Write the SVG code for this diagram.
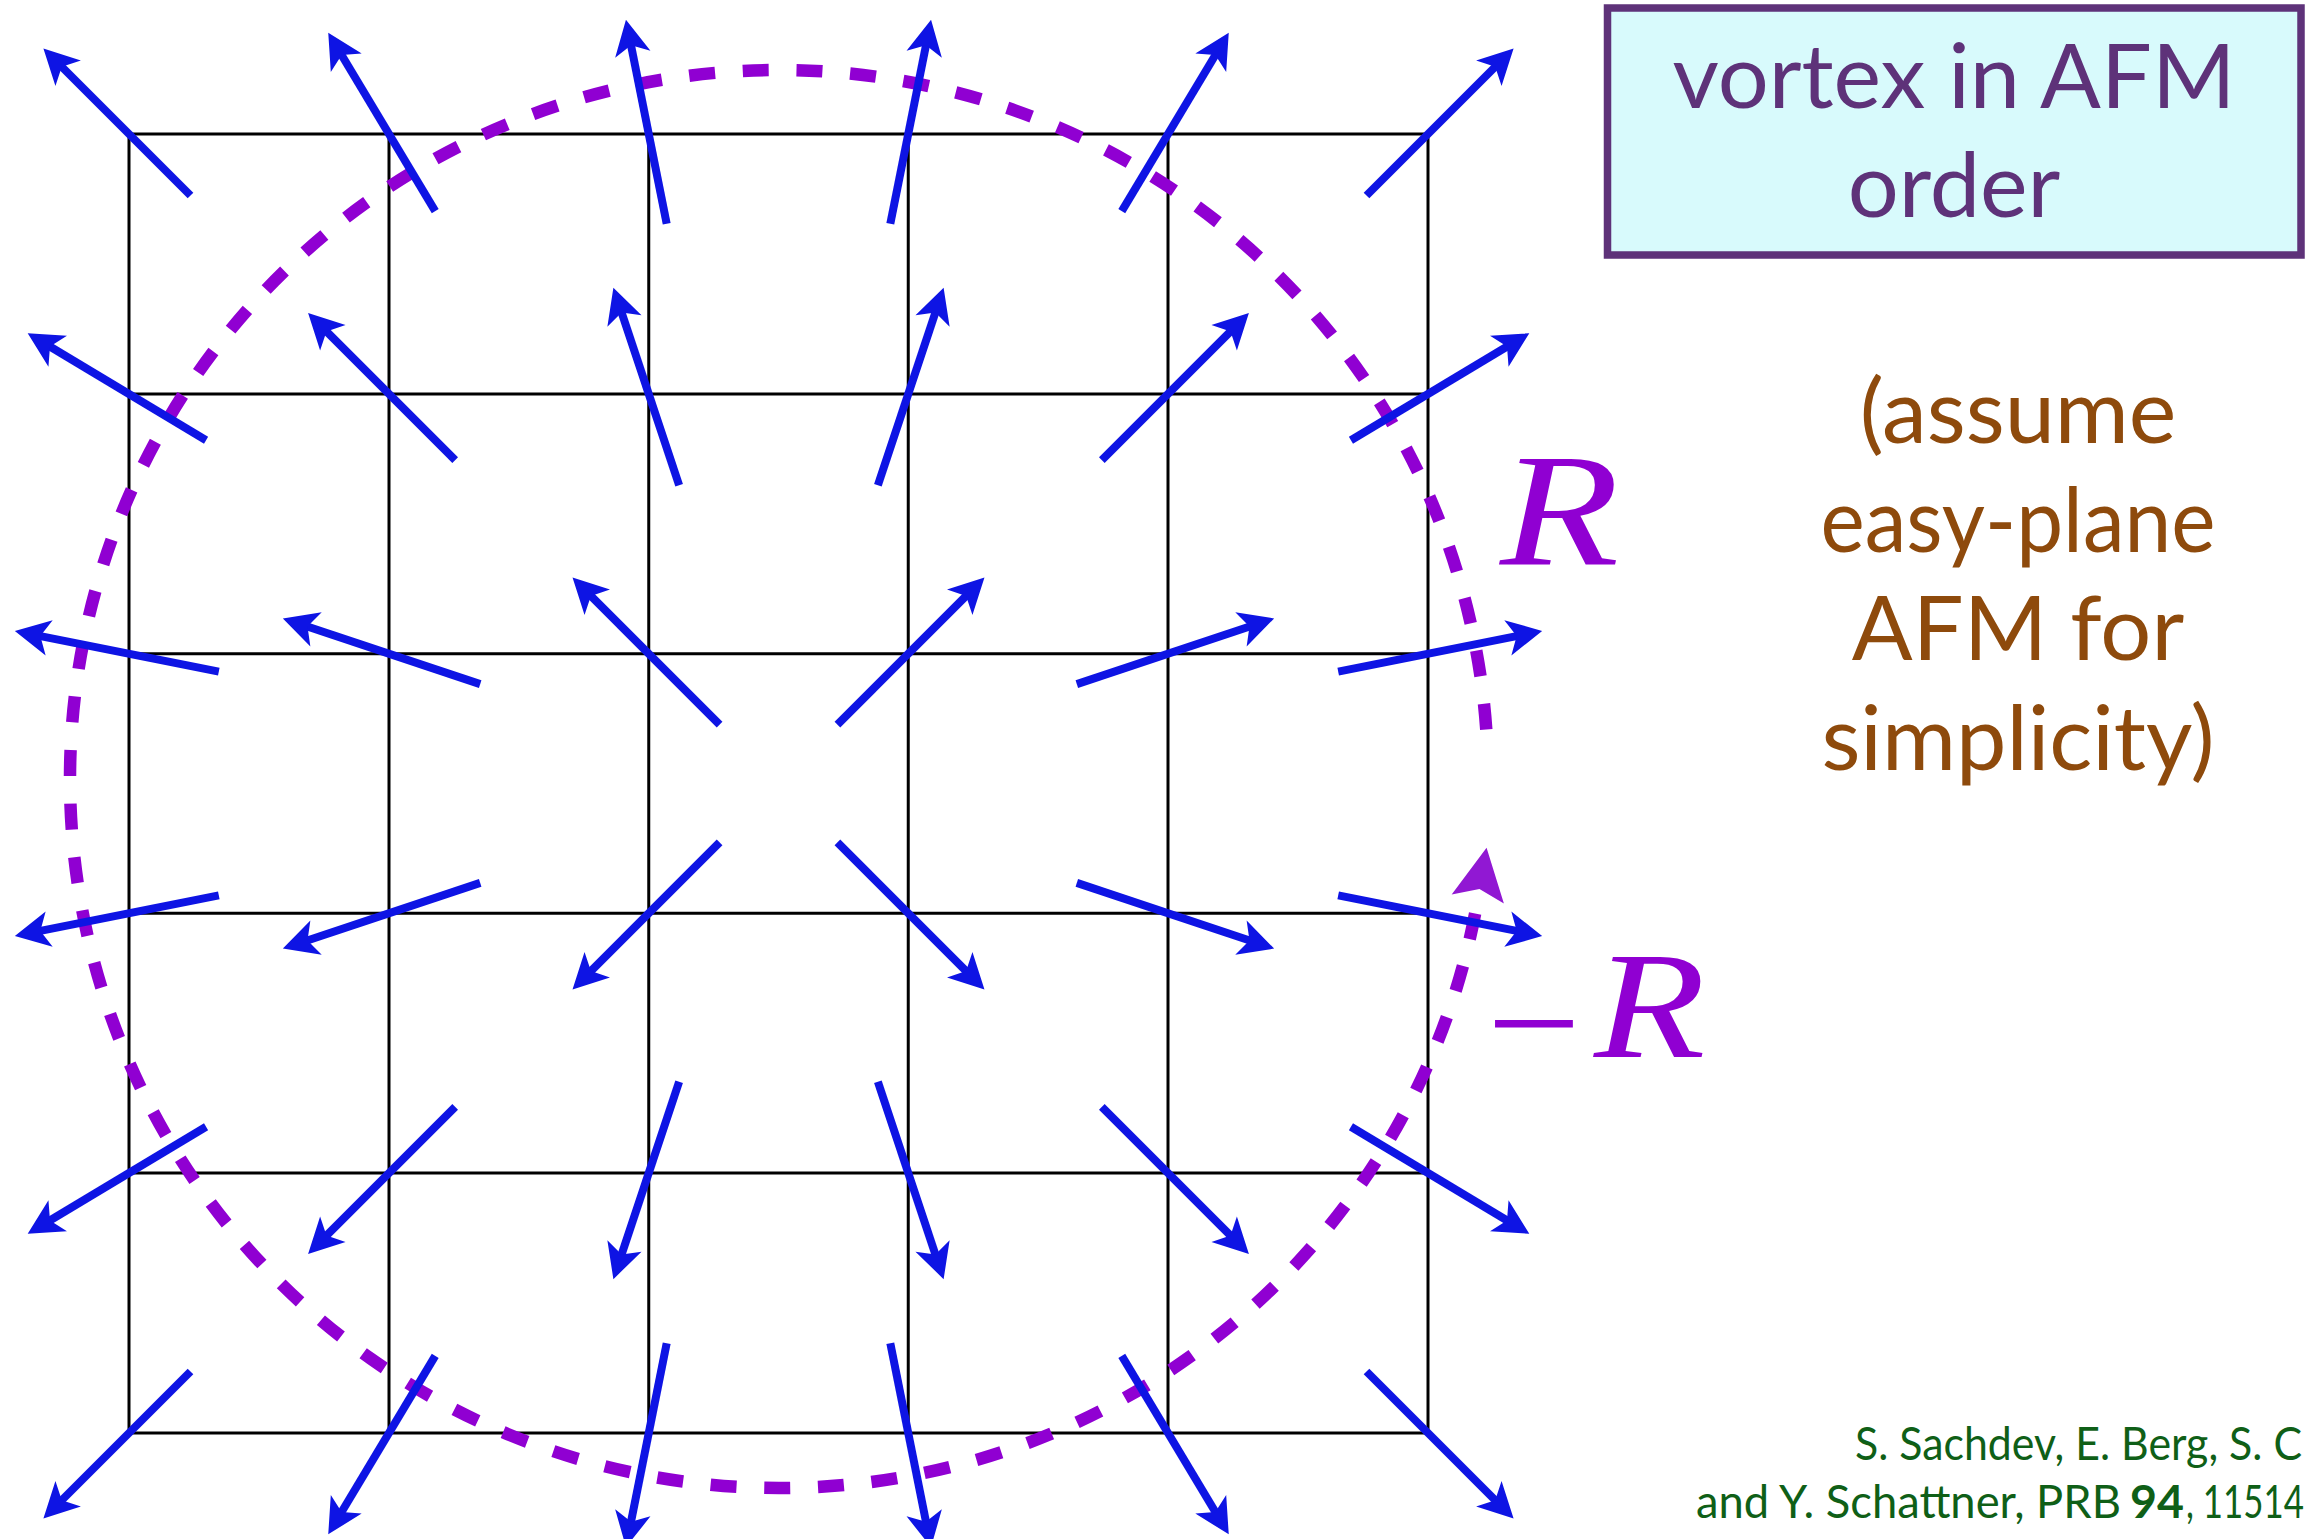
<svg xmlns="http://www.w3.org/2000/svg" width="2317" height="1539" viewBox="0 0 2317 1539">
<style>
.grid{stroke:#000;stroke-width:3;fill:none}
.spin{stroke:#0E14E4;stroke-width:8;fill:none;marker-end:url(#ah)}
.loop{stroke:#9000D2;stroke-width:12.5;fill:none;stroke-dasharray:26 27.71}
.box{fill:#D8FAFC;stroke:#5E3279;stroke-width:7.5}
.boxt{font-family:Lato,"Open Sans",sans-serif;font-size:90px;fill:#5E3279;text-anchor:middle}
.note{font-family:Lato,"Open Sans",sans-serif;font-size:90px;fill:#8E4A0C;text-anchor:middle}
.cite{font-family:Lato,"Open Sans",sans-serif;font-size:46px;fill:#0F5F17}
.rl{font-family:"Liberation Serif","Times New Roman",serif;font-style:italic;font-weight:normal;fill:#9000D2}
</style>
<defs>
<marker id="ah" markerUnits="userSpaceOnUse" orient="auto" refX="14" refY="0" markerWidth="40" markerHeight="40" overflow="visible"><path d="M35,0 L0,-18 L9,0 L0,18 Z" fill="#0E14E4"/></marker>
<marker id="lh" markerUnits="userSpaceOnUse" orient="auto" refX="0" refY="0" markerWidth="60" markerHeight="60" overflow="visible"><path d="M52,0 L0,-26.5 L10,0 L0,26.5 Z" fill="#9118D3"/></marker>
</defs>
<g id="lattice">
<rect class="grid" x="129" y="134" width="1299" height="1299"/>
<path class="grid" d="M389,134V1433M648.75,134V1433M908.25,134V1433M1168,134V1433M129,394H1428M129,653.75H1428M129,913.25H1428M129,1173H1428"/>
</g>
<g id="contour">
<path class="loop" d="M1486.27,729.54 A709,709 0 1 0 1477.78,898.95" marker-end="url(#lh)"/>
</g>
<g id="spins">
<line class="spin" x1="190.5" y1="195.5" x2="58.26" y2="63.26"/>
<line class="spin" x1="435.22" y1="211.07" x2="339.05" y2="50.7"/>
<line class="spin" x1="666.69" y1="223.81" x2="630.06" y2="40.43"/>
<line class="spin" x1="890.31" y1="223.81" x2="926.94" y2="40.43"/>
<line class="spin" x1="1121.78" y1="211.07" x2="1217.95" y2="50.7"/>
<line class="spin" x1="1366.5" y1="195.5" x2="1498.74" y2="63.26"/>

<line class="spin" x1="206.07" y1="440.22" x2="45.7" y2="344.05"/>
<line class="spin" x1="455.18" y1="460.18" x2="322.94" y2="327.94"/>
<line class="spin" x1="679.13" y1="485.19" x2="620.02" y2="307.77"/>
<line class="spin" x1="877.87" y1="485.19" x2="936.98" y2="307.77"/>
<line class="spin" x1="1101.82" y1="460.18" x2="1234.06" y2="327.94"/>
<line class="spin" x1="1350.93" y1="440.22" x2="1511.3" y2="344.05"/>

<line class="spin" x1="218.81" y1="671.69" x2="35.43" y2="635.06"/>
<line class="spin" x1="480.19" y1="684.13" x2="302.77" y2="625.02"/>
<line class="spin" x1="719.6" y1="724.6" x2="587.37" y2="592.37"/>
<line class="spin" x1="837.4" y1="724.6" x2="969.63" y2="592.37"/>
<line class="spin" x1="1076.81" y1="684.13" x2="1254.23" y2="625.02"/>
<line class="spin" x1="1338.19" y1="671.69" x2="1521.57" y2="635.06"/>

<line class="spin" x1="218.81" y1="895.31" x2="35.43" y2="931.94"/>
<line class="spin" x1="480.19" y1="882.87" x2="302.77" y2="941.98"/>
<line class="spin" x1="719.6" y1="842.4" x2="587.37" y2="974.63"/>
<line class="spin" x1="837.4" y1="842.4" x2="969.63" y2="974.63"/>
<line class="spin" x1="1076.81" y1="882.87" x2="1254.23" y2="941.98"/>
<line class="spin" x1="1338.19" y1="895.31" x2="1521.57" y2="931.94"/>

<line class="spin" x1="206.07" y1="1126.78" x2="45.7" y2="1222.95"/>
<line class="spin" x1="455.18" y1="1106.82" x2="322.94" y2="1239.06"/>
<line class="spin" x1="679.13" y1="1081.81" x2="620.02" y2="1259.23"/>
<line class="spin" x1="877.87" y1="1081.81" x2="936.98" y2="1259.23"/>
<line class="spin" x1="1101.82" y1="1106.82" x2="1234.06" y2="1239.06"/>
<line class="spin" x1="1350.93" y1="1126.78" x2="1511.3" y2="1222.95"/>

<line class="spin" x1="190.5" y1="1371.5" x2="58.26" y2="1503.74"/>
<line class="spin" x1="435.22" y1="1355.93" x2="339.05" y2="1516.3"/>
<line class="spin" x1="666.69" y1="1343.19" x2="630.06" y2="1526.57"/>
<line class="spin" x1="890.31" y1="1343.19" x2="926.94" y2="1526.57"/>
<line class="spin" x1="1121.78" y1="1355.93" x2="1217.95" y2="1516.3"/>
<line class="spin" x1="1366.5" y1="1371.5" x2="1498.74" y2="1503.74"/>
</g>
<g id="label-R">
<text class="rl" transform="translate(1500,564) scale(1.22,1)" x="0" y="0" font-size="160">R</text>
</g>
<g id="label-minusR">
<text class="rl" transform="translate(1476,1074) scale(1.1,1)" font-size="152">−</text>
<text class="rl" transform="translate(1594,1057) scale(1.2,1)" font-size="152">R</text>
</g>
<g id="title-box">
<rect class="box" x="1607.5" y="8" width="693.5" height="247"/>
<text class="boxt" x="1954" y="108">vortex in AFM</text>
<text class="boxt" x="1954" y="217">order</text>
</g>
<g id="note">
<text class="note" x="2018" y="443">(assume</text>
<text class="note" x="2018" y="552" textLength="395" lengthAdjust="spacingAndGlyphs">easy-plane</text>
<text class="note" x="2018" y="660">AFM for</text>
<text class="note" x="2018" y="770">simplicity)</text>
</g>
<g id="citation">
<text class="cite" x="1855" y="1460" textLength="447" lengthAdjust="spacingAndGlyphs">S. Sachdev, E. Berg, S. C</text>
<text class="cite" x="1696" y="1518" textLength="425" lengthAdjust="spacingAndGlyphs">and Y. Schattner, PRB</text>
<text class="cite" x="2130" y="1518" font-weight="bold" textLength="54" lengthAdjust="spacingAndGlyphs">94</text>
<text class="cite" x="2186" y="1518" textLength="118" lengthAdjust="spacingAndGlyphs">, 11514</text>
</g>
</svg>
